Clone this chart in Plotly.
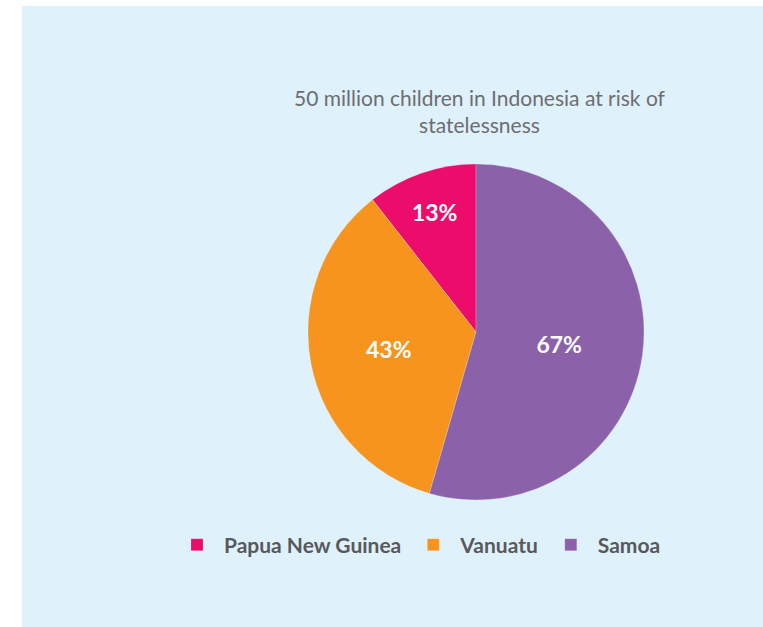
import plotly.graph_objects as go

labels = ["Papua New Guinea", "Vanuatu", "Samoa"]
values = [13, 43, 67]
colors = ["#ec0c6c", "#f7941e", "#8b61a9"]
title_text = "50 million children in Indonesia at risk of<br>statelessness"

W, H = 763, 627
cx, cy, r = 476, 332, 168
rot = -360.0 * values[0] / sum(values)

fig = go.Figure(go.Pie(
    labels=labels,
    values=values,
    sort=False,
    direction="counterclockwise",
    rotation=rot,
    marker=dict(colors=colors, line=dict(color="rgba(255,255,255,0.4)", width=0.5)),
    texttemplate="%{value}%",
    textposition="inside",
    insidetextorientation="horizontal",
    textfont=dict(family="Lato", size=23, color="white", weight="bold"),
    hoverinfo="label+value",
    domain=dict(x=[(cx - r) / W, (cx + r) / W], y=[(H - cy - r) / H, (H - cy + r) / H]),
))

fig.update_layout(
    width=W, height=H,
    margin=dict(l=0, r=0, t=0, b=0),
    paper_bgcolor="white",
    plot_bgcolor="white",
    showlegend=True,
    legend=dict(
        orientation="h",
        x=170 / W, xanchor="left",
        y=1 - 545 / H, yanchor="middle",
        itemwidth=44,
        font=dict(family="Lato", size=21, color="#58595b", weight="bold"),
        bgcolor="rgba(0,0,0,0)",
        itemclick=False,
    ),
    shapes=[dict(
        type="rect", xref="paper", yref="paper",
        x0=22 / W, x1=1, y0=0, y1=1 - 6 / H,
        fillcolor="#dff1fb", line=dict(width=0), layer="below",
    )],
    annotations=[dict(
        text=title_text, xref="paper", yref="paper",
        x=480 / W, y=1 - 111 / H, xanchor="center", yanchor="middle",
        showarrow=False, align="center",
        font=dict(family="Lato", size=21, color="#6d6e71"),
    )],
)

fig.write_html("out.html")
